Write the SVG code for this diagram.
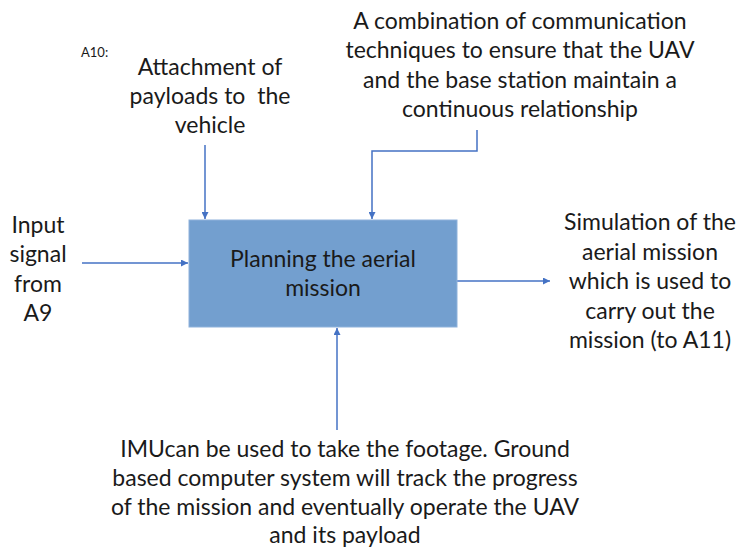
<svg xmlns="http://www.w3.org/2000/svg" width="739" height="550" viewBox="0 0 739 550">
<style>
.t{font-family:Lato,"Liberation Sans",sans-serif;font-size:23px;fill:#1a1a1a;text-anchor:middle;white-space:pre}
.s{font-family:Lato,"Liberation Sans",sans-serif;font-size:13px;fill:#1a1a1a}
.c{fill:none;stroke:#4472C4;stroke-width:1.5}
</style>
<defs>
<marker id="ah" viewBox="0 0 10 10" refX="10" refY="5" markerWidth="7" markerHeight="7" markerUnits="userSpaceOnUse" orient="auto">
<path d="M0,0 L10,5 L0,10 z" fill="#4472C4"/>
</marker>
</defs>
<rect width="739" height="550" fill="#ffffff"/>
<g id="connectors">
<path class="c" d="M205,145 V219" marker-end="url(#ah)"/>
<path class="c" d="M477,130 V151 H372 V219" marker-end="url(#ah)"/>
<path class="c" d="M82,263 H188" marker-end="url(#ah)"/>
<path class="c" d="M457,281 H550" marker-end="url(#ah)"/>
<path class="c" d="M337,430 V328" marker-end="url(#ah)"/>
</g>
<g id="label-a10"><text class="s" x="81" y="57">A10:</text></g>
<g id="node-main">
<rect x="189" y="220" width="268" height="107" fill="#739FCF" stroke="#8FB2DB" stroke-width="1"/>
<text class="t" x="323" y="267">Planning the aerial</text>
<text class="t" x="323" y="296">mission</text>
</g>
<g id="control-attachment">
<text class="t" x="210" y="75">Attachment of</text>
<text class="t" x="210" y="104" xml:space="preserve">payloads to  the</text>
<text class="t" x="210" y="133">vehicle</text>
</g>
<g id="control-communication">
<text class="t" x="520" y="28.5">A combination of communication</text>
<text class="t" x="520" y="58">techniques to ensure that the UAV</text>
<text class="t" x="520" y="87.5">and the base station maintain a</text>
<text class="t" x="520" y="117">continuous relationship</text>
</g>
<g id="input-signal">
<text class="t" x="38" y="232.5">Input</text>
<text class="t" x="38" y="262">signal</text>
<text class="t" x="38" y="291.5">from</text>
<text class="t" x="38" y="321">A9</text>
</g>
<g id="output-simulation">
<text class="t" x="650" y="230">Simulation of the</text>
<text class="t" x="650" y="259.5">aerial mission</text>
<text class="t" x="650" y="289">which is used to</text>
<text class="t" x="650" y="318.5">carry out the</text>
<text class="t" x="650" y="348">mission (to A11)</text>
</g>
<g id="mechanism-imu">
<text class="t" x="345" y="456.5">IMUcan be used to take the footage. Ground</text>
<text class="t" x="345" y="486">based computer system will track the progress</text>
<text class="t" x="345" y="515">of the mission and eventually operate the UAV</text>
<text class="t" x="345" y="543">and its payload</text>
</g>
</svg>
